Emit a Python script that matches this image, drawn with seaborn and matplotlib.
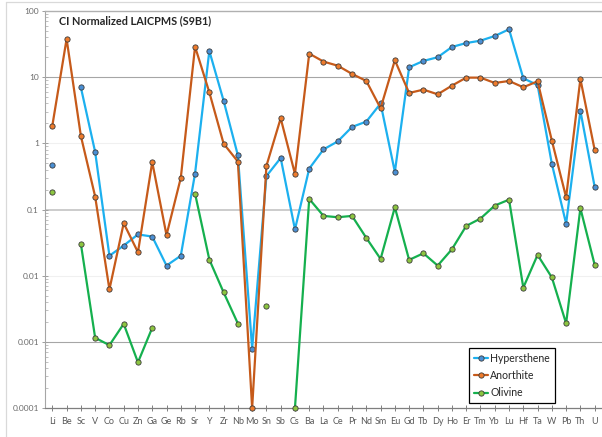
import numpy as np
import pandas as pd
import matplotlib
matplotlib.use("Agg")
import matplotlib.pyplot as plt
from matplotlib.lines import Line2D
from matplotlib.ticker import LogLocator, NullFormatter
import seaborn as sns

nan = np.nan

elements = ["Li", "Be", "Sc", "V", "Co", "Cu", "Zn", "Ga", "Ge", "Rb", "Sr", "Y", "Zr",
            "Nb", "Mo", "Sn", "Sb", "Cs", "Ba", "La", "Ce", "Pr", "Nd", "Sm", "Eu", "Gd",
            "Tb", "Dy", "Ho", "Er", "Tm", "Yb", "Lu", "Hf", "Ta", "W", "Pb", "Th", "U"]

hypersthene = [0.47, nan, 7.0, 0.74, 0.020, 0.0285, 0.042, 0.039, 0.0142, 0.020,
               0.35, 24.9, 4.4, 0.66, 0.00079, 0.32, 0.60, 0.050, 0.415, 0.81,
               1.07, 1.77, 2.13, 4.0, 0.37, 14.1, 17.6, 20.0, 28.6, 32.8,
               35.6, 41.9, 52.9, 9.6, 7.6, 0.49, 0.061, 3.1, 0.22]

anorthite = [1.85, 37.8, 1.29, 0.157, 0.0062, 0.062, 0.0226, 0.52, 0.041, 0.30,
             28.9, 5.9, 0.99, 0.53, 0.0001, 0.456, 2.39, 0.345, 22.7, 17.2,
             14.9, 11.2, 8.76, 3.39, 18.0, 5.77, 6.48, 5.51, 7.45, 9.84,
             9.84, 8.17, 8.76, 7.03, 8.66, 1.10, 0.153, 9.4, 0.795]

olivine = [0.184, nan, 0.0302, 0.00115, 0.00089, 0.00187, 0.00049, 0.00163, nan, nan,
           0.174, 0.0175, 0.0056, 0.00189, nan, 0.00342, nan, 0.0001, 0.1445, 0.080,
           0.0764, 0.080, 0.0372, 0.0179, 0.108, 0.0173, 0.0218, 0.0142, 0.0251, 0.0565,
           0.073, 0.1146, 0.141, 0.0066, 0.0206, 0.0094, 0.0019, 0.1045, 0.0146]

series_names = ["Hypersthene", "Anorthite", "Olivine"]
y_ticks = [1e-4, 1e-3, 1e-2, 1e-1, 1, 10, 100]
y_tick_labels = ["0.0001", "0.001", "0.01", "0.1", "1", "10", "100"]
title = "CI Normalized LAICPMS (S9B1)"

line_colors = ["#1cb0ef", "#c65a1a", "#15b04e"]
face_colors = ["#4a8fd4", "#ee7b2c", "#8cc540"]
edge_color = "#3a3a3a"

sns.set_theme(style="white")
plt.rcParams["font.family"] = ["Lato", "DejaVu Sans"]


def to_frame(name, values):
    """Long-form table; each unbroken run of values gets its own segment id."""
    v = np.asarray(values, dtype=float)
    ok = ~np.isnan(v)
    seg = np.cumsum(np.r_[True, ok[1:] != ok[:-1]])
    df = pd.DataFrame({"pos": np.arange(len(v)), "value": v,
                       "segment": seg, "mineral": name})
    return df[ok]


W, H = 602, 437
fig = plt.figure(figsize=(W / 100, H / 100), dpi=100)
left, right, top, bottom = 45.2, 601.8, 11, 408
ax = fig.add_axes([left / W, (H - bottom) / H, (right - left) / W, (bottom - top) / H])

ax.set_yscale("log")
ax.set_ylim(1e-4, 100)
ax.set_xlim(-0.5, len(elements) - 0.5)

# decade gridlines
grid_style = {10: ("#a6a6a6", 0.8), 1: ("#f0f0f0", 0.8), 0.1: ("#cccccc", 1.4),
              0.01: ("#f0f0f0", 0.8), 0.001: ("#a6a6a6", 0.8)}
for yv, (c, lw) in grid_style.items():
    ax.axhline(yv, color=c, lw=lw, zorder=0)

marker_kw = dict(marker="o", markersize=3.8, markeredgecolor=edge_color, markeredgewidth=0.6)

for name, vals, lc, fc in zip(series_names, [hypersthene, anorthite, olivine],
                              line_colors, face_colors):
    df = to_frame(name, vals)
    sns.lineplot(data=df, x="pos", y="value", units="segment", estimator=None,
                 sort=False, color=lc, lw=1.6, markerfacecolor=fc,
                 clip_on=False, zorder=3, legend=False, ax=ax, **marker_kw)

ax.set_xlabel("")
ax.set_ylabel("")
ax.set_xticks(range(len(elements)))
ax.set_xticklabels(elements)
ax.set_yticks(y_ticks)
ax.set_yticklabels(y_tick_labels)
ax.yaxis.set_minor_locator(LogLocator(base=10, subs=np.arange(2, 10), numticks=20))
ax.yaxis.set_minor_formatter(NullFormatter())

ax.tick_params(axis="x", direction="inout", length=4, width=0.7, color="#7f7f7f",
               labelsize=6.5, labelcolor="#595959", pad=4.5, bottom=True)
ax.tick_params(axis="y", which="major", direction="inout", length=4, width=0.7,
               color="#9e9e9e", labelsize=6, labelcolor="#6a6a6a", pad=2.5, left=True)
ax.tick_params(axis="y", which="minor", direction="in", length=2.2, width=0.6,
               color="#b5b5b5", left=True)

ax.spines["left"].set_color("#a6a6a6")
ax.spines["left"].set_linewidth(0.8)
ax.spines["bottom"].set_color("#7f7f7f")
ax.spines["bottom"].set_linewidth(0.9)
ax.spines["top"].set_color("#b0b0b0")
ax.spines["top"].set_linewidth(1.0)
ax.spines["right"].set_visible(False)

ax.text(0.025, 0.975, title, transform=ax.transAxes, fontsize=7.8,
        fontweight="bold", color="#262626", ha="left", va="center")

handles = [Line2D([0], [0], color=lc, lw=1.6, markerfacecolor=fc, **marker_kw)
           for lc, fc in zip(line_colors, face_colors)]
leg = ax.legend(handles, series_names, loc="lower left", bbox_to_anchor=(0.761, 0.0126),
                frameon=True, fancybox=False, edgecolor="black", framealpha=1,
                fontsize=7.6, handlelength=1.4, labelspacing=0.6, borderpad=0.45,
                handletextpad=0.2, borderaxespad=0)
leg.get_frame().set_linewidth(0.9)

# outer chart-area border
fig.add_artist(Line2D([6 / W, 1], [1 - 2 / H, 1 - 2 / H], transform=fig.transFigure,
                      color="#d9d9d9", lw=0.9))
fig.add_artist(Line2D([6 / W, 6 / W], [0, 1 - 2 / H], transform=fig.transFigure,
                      color="#d9d9d9", lw=0.9))

fig.savefig("out.png", dpi=100)
